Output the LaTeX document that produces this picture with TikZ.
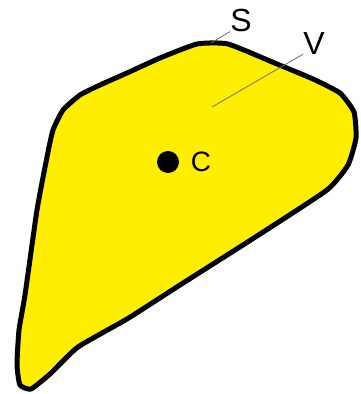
\documentclass[tikz,border=0pt]{standalone}
\usepackage{fontspec}
\setmainfont{Liberation Sans}
\definecolor{fillyellow}{RGB}{255,238,0}
\definecolor{leadergray}{RGB}{110,110,130}
\begin{document}
\begin{tikzpicture}[x=1pt,y=-1pt,
  outline/.style={draw=black,line width=5pt,line join=round,fill=fillyellow},
  lbl/.style={inner sep=0pt,font=\fontsize{32}{36}\selectfont},
  clbl/.style={inner sep=0pt,font=\fontsize{28}{32}\selectfont},
  leader/.style={draw=leadergray,line width=0.8pt},
  centre/.style={circle,fill=black,minimum size=22pt,inner sep=0pt}]
\useasboundingbox (0,0) rectangle (360,394);
\path[outline] plot[smooth cycle,tension=0.3] coordinates {
  (197,44) (228,44) (277,64) (313,79) (340,93) (354,112) (356,138)
  (348,165) (327,190) (257,236) (180,285)
  (127,319) (78,347) (50,374) (31,389) (20,385) (17,365) (19,330)
  (25,295) (37,210) (47,157) (53,130) (63,110) (80,95) (100,85)
  (127,73) (160,58)};
\node[centre] (c) at (168,162) {};
\node[clbl] (clabel) at (201,162) {C};
\node[lbl] (s) at (241,20) {S};
\node[lbl] (v) at (314,43) {V};
\coordinate (sfoot) at (211,43);
\coordinate (vfoot) at (212,107);
\draw[leader] (sfoot) -- (s.south west);
\draw[leader] (vfoot) -- (v.south west);
\end{tikzpicture}
\end{document}
